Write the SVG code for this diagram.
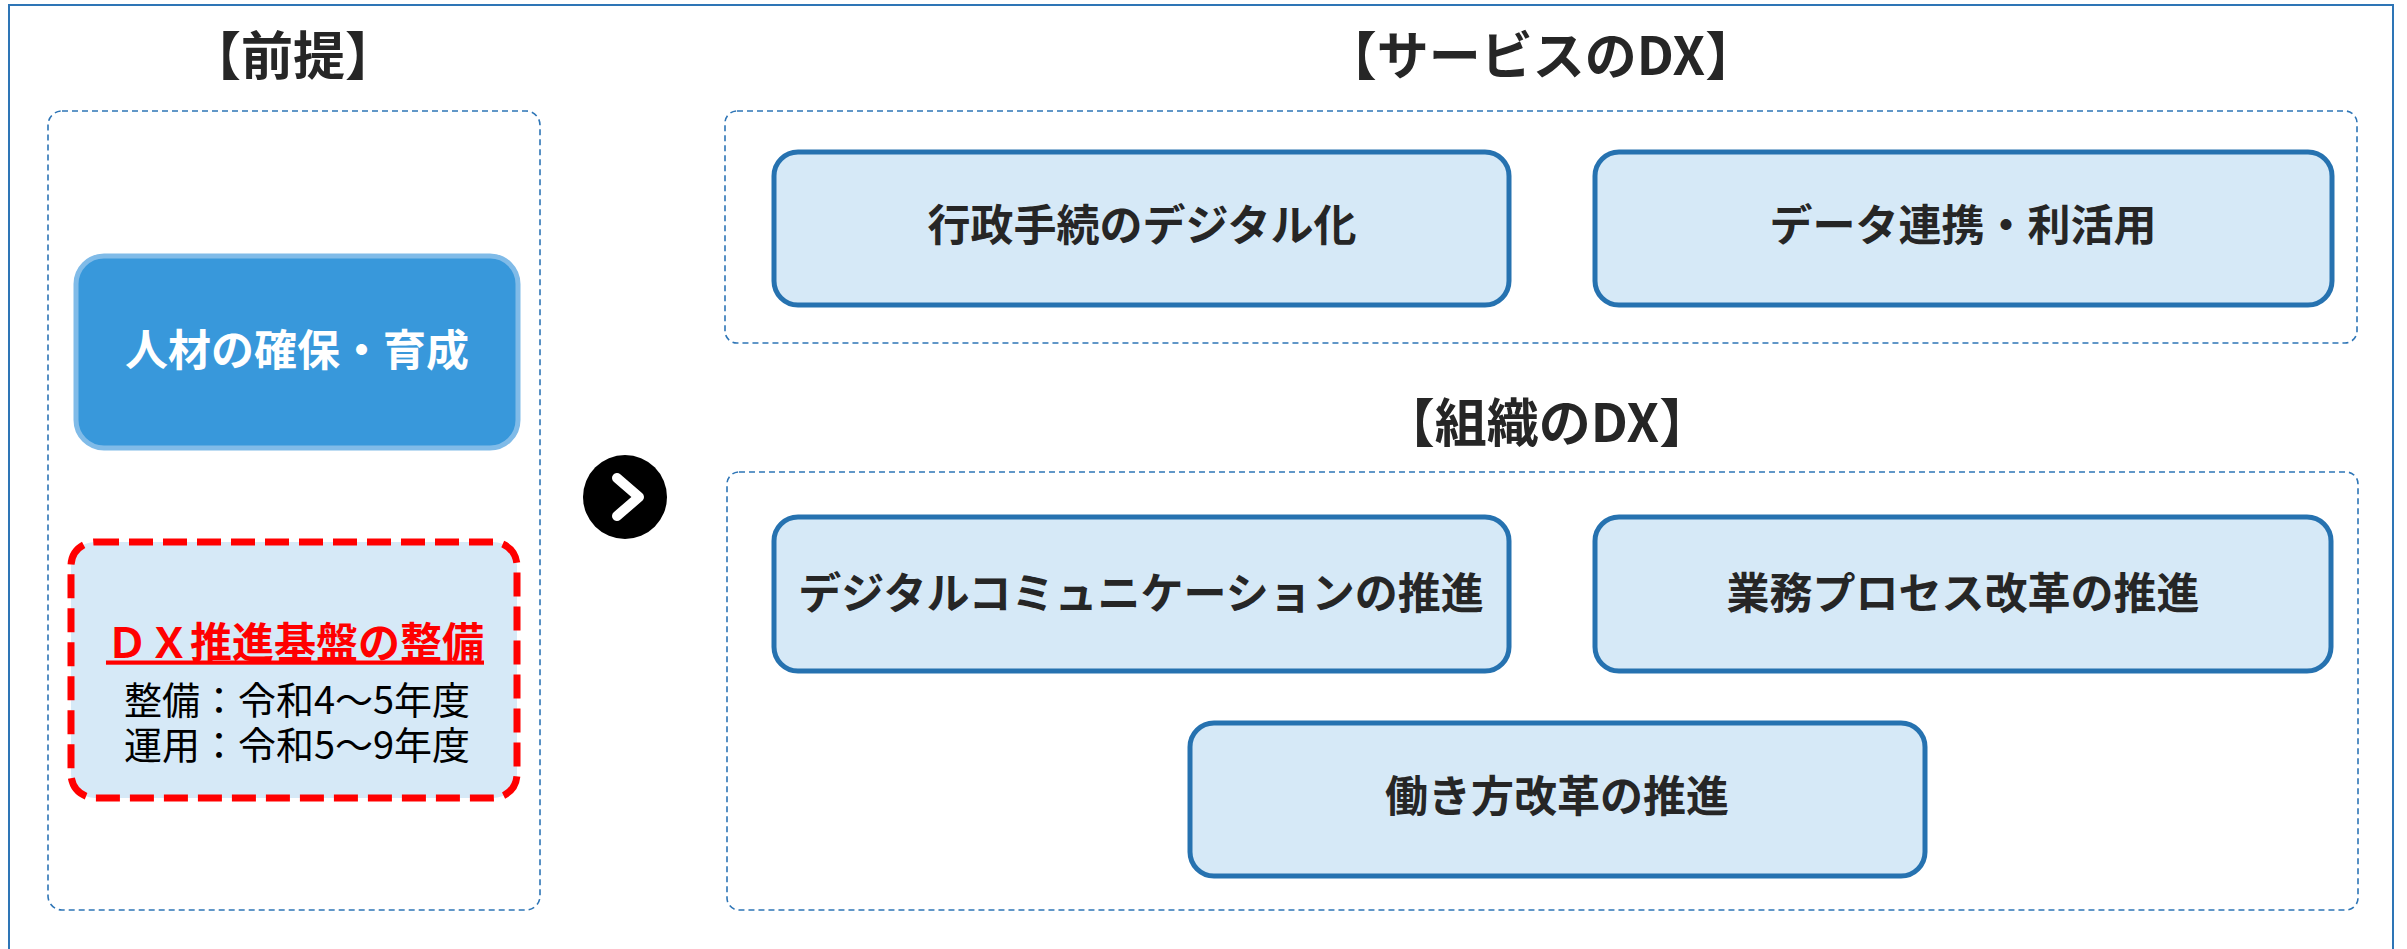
<svg xmlns="http://www.w3.org/2000/svg" width="2407" height="949" viewBox="0 0 2407 949">
<style>
  .frame { fill: none; stroke: #2E75B6; stroke-width: 2; }
  .group { fill: none; stroke: #2E75B6; stroke-width: 1.6; stroke-dasharray: 6 4; }
  .node { fill: #D6E9F7; stroke: #2672B0; stroke-width: 5; }
  .title { font-family: "Noto Sans CJK JP", sans-serif; font-weight: 700; font-size: 52px; fill: #262626; text-anchor: middle; dominant-baseline: central; }
  .label { font-family: "Noto Sans CJK JP", sans-serif; font-weight: 700; font-size: 43px; fill: #262626; text-anchor: middle; dominant-baseline: central; }
  .sub { font-family: "Noto Sans CJK JP", sans-serif; font-weight: 400; font-size: 38px; fill: #000000; text-anchor: middle; dominant-baseline: central; }
</style>
<rect x="0" y="0" width="2407" height="949" fill="#FFFFFF"/>
<rect class="frame" x="9" y="5" width="2384" height="960"/>

<g id="premise-section">
  <text class="title" x="293" y="52">【前提】</text>
  <rect class="group" x="48" y="111" width="492" height="799" rx="14"/>
</g>

<g id="node-jinzai">
  <rect x="76" y="256" width="442" height="192" rx="28" fill="#3898DB" stroke="#80BBE8" stroke-width="5"/>
  <text class="label" x="297" y="347" style="fill:#FFFFFF">人材の確保・育成</text>
</g>

<g id="node-dx-kiban">
  <rect x="71" y="542" width="446" height="256" rx="24" fill="#D6E9F7" stroke="#FF0000" stroke-width="7" stroke-dasharray="24 10"/>
  <text class="label" x="295" y="639" style="fill:#FF0000;font-size:42px" text-decoration="underline">ＤＸ推進基盤の整備</text>
  <text class="sub" x="297" y="697">整備：令和4～5年度</text>
  <text class="sub" x="297" y="742">運用：令和5～9年度</text>
</g>

<g id="arrow">
  <circle cx="625" cy="497" r="42" fill="#000000"/>
  <polyline points="617,478 639,497 617,516" fill="none" stroke="#FFFFFF" stroke-width="10" stroke-linecap="round" stroke-linejoin="round"/>
</g>

<g id="service-section">
  <text class="title" x="1541" y="52">【サービスのDX】</text>
  <rect class="group" x="725" y="111" width="1632" height="232" rx="12"/>
</g>

<g id="node-gyosei">
  <rect class="node" x="774" y="152" width="735" height="153" rx="24"/>
  <text class="label" x="1142" y="222">行政手続のデジタル化</text>
</g>

<g id="node-data">
  <rect class="node" x="1595" y="152" width="737" height="153" rx="24"/>
  <text class="label" x="1963" y="222">データ連携・利活用</text>
</g>

<g id="org-section">
  <text class="title" x="1547" y="419">【組織のDX】</text>
  <rect class="group" x="727" y="472" width="1631" height="438" rx="12"/>
</g>

<g id="node-comm">
  <rect class="node" x="774" y="517" width="735" height="154" rx="24"/>
  <text class="label" x="1141" y="590">デジタルコミュニケーションの推進</text>
</g>

<g id="node-gyomu">
  <rect class="node" x="1595" y="517" width="736" height="154" rx="24"/>
  <text class="label" x="1963" y="590">業務プロセス改革の推進</text>
</g>

<g id="node-hatarakikata">
  <rect class="node" x="1190" y="723" width="735" height="153" rx="24"/>
  <text class="label" x="1557" y="793">働き方改革の推進</text>
</g>

<g id="connectors"></g>
</svg>
